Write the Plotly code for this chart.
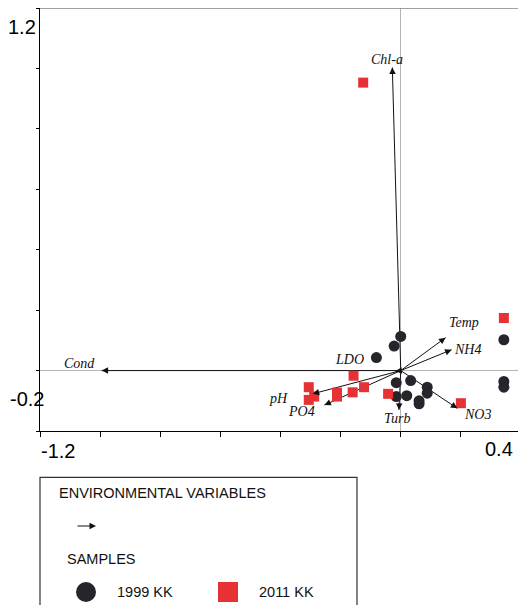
import plotly.graph_objects as go

# ---- data ----
s1999_x = [0.000, -0.022, -0.081, 0.343, 0.343, 0.343, -0.015, 0.033, 0.088, 0.088, -0.015, 0.020, 0.061, 0.061]
s1999_y = [0.113, 0.081, 0.043, 0.102, -0.036, -0.055, -0.040, -0.033, -0.055, -0.075, -0.086, -0.083, -0.100, -0.110]

s2011_x = [-0.125, 0.343, -0.157, -0.306, -0.288, -0.306, -0.212, -0.212, -0.160, -0.122, -0.042, 0.200]
s2011_y = [0.953, 0.174, -0.017, -0.055, -0.086, -0.097, -0.073, -0.086, -0.072, -0.055, -0.077, -0.108]

env_names = ["Chl-a", "Cond", "Temp", "NH4", "NO3", "Turb", "pH", "PO4", "LDO"]
env_x = [-0.028, -0.995, 0.149, 0.169, 0.188, -0.006, -0.293, -0.254, -0.018]
env_y = [1.003, 0.000, 0.109, 0.069, -0.125, -0.130, -0.077, -0.114, -0.002]

# label anchor positions (data units)
lab_x = [-0.046, -1.070, 0.210, 0.221, 0.256, -0.012, -0.407, -0.330, -0.171]
lab_y = [1.028, 0.025, 0.158, 0.069, -0.147, -0.157, -0.092, -0.136, 0.038]

x_ticks = [-1.2, -1.0, -0.8, -0.6, -0.4, -0.2, 0.0, 0.2, 0.4]
y_ticks = [-0.2, 0.0, 0.2, 0.4, 0.6, 0.8, 1.0, 1.2]

RED = "#e63234"
DARK = "#25252b"

fig = go.Figure()

# arrow shafts (below markers)
sx, sy = [], []
for x, y in zip(env_x, env_y):
    sx += [0, x, None]
    sy += [0, y, None]
fig.add_trace(go.Scatter(x=sx, y=sy, mode="lines", line=dict(color="#111111", width=1),
                         hoverinfo="skip", showlegend=False))

fig.add_trace(go.Scatter(x=s1999_x, y=s1999_y, mode="markers", name="1999 KK",
                         marker=dict(symbol="circle", size=11, color=DARK), showlegend=False))
fig.add_trace(go.Scatter(x=s2011_x, y=s2011_y, mode="markers", name="2011 KK",
                         marker=dict(symbol="square", size=10, color=RED), showlegend=False))

ann = []
for name, x, y, lx, ly in zip(env_names, env_x, env_y, lab_x, lab_y):
    L = (x * x + y * y) ** 0.5
    bx = x - 0.02 * x / L
    by = y - 0.02 * y / L
    ann.append(dict(x=x, y=y, ax=bx, ay=by, axref="x", ayref="y", xref="x", yref="y",
                    text="", showarrow=True, arrowhead=2, arrowsize=1.3, arrowwidth=1,
                    arrowcolor="#111111"))
    ann.append(dict(x=lx, y=ly, xref="x", yref="y", text=name, showarrow=False,
                    font=dict(family="Liberation Serif", size=14, color="#111111", style="italic"),
                    xanchor="center", yanchor="middle"))

axfont = dict(family="Liberation Sans, Arial", size=20, color="#000000")
ann += [
    dict(x=-0.0048, y=0.955, xref="paper", yref="paper", text="1.2", showarrow=False,
         xanchor="right", yanchor="middle", font=axfont),
    dict(x=-0.026, y=0.0757, xref="paper", yref="paper", text="-0.2", showarrow=False,
         xanchor="center", yanchor="middle", font=axfont),
    dict(x=0.0374, y=-0.0473, xref="paper", yref="paper", text="-1.2", showarrow=False,
         xanchor="center", yanchor="middle", font=axfont),
    dict(x=0.954, y=-0.0426, xref="paper", yref="paper", text="0.4", showarrow=False,
         xanchor="center", yanchor="middle", font=axfont),
]

lgfont = dict(family="Liberation Sans, Arial", size=14.5, color="#111111")
ann += [
    dict(x=0.0353, y=-0.1466, xref="paper", yref="paper", text="ENVIRONMENTAL VARIABLES",
         showarrow=False, xanchor="left", yanchor="middle", font=lgfont),
    dict(x=0.1164, y=-0.2246, xref="paper", yref="paper", text="", showarrow=True,
         ax=-20, ay=0, arrowhead=2, arrowsize=1.3, arrowwidth=1, arrowcolor="#111111"),
    dict(x=0.052, y=-0.3026, xref="paper", yref="paper", text="SAMPLES",
         showarrow=False, xanchor="left", yanchor="middle", font=lgfont),
    dict(x=0.1559, y=-0.3806, xref="paper", yref="paper", text="1999 KK",
         showarrow=False, xanchor="left", yanchor="middle", font=lgfont),
    dict(x=0.4511, y=-0.3806, xref="paper", yref="paper", text="2011 KK",
         showarrow=False, xanchor="left", yanchor="middle", font=lgfont),
]

shapes = [
    # top & right frame
    dict(type="line", xref="paper", yref="paper", x0=0, x1=1, y0=1, y1=1,
         line=dict(color="#808080", width=1.5)),
    dict(type="line", xref="paper", yref="paper", x0=1, x1=1, y0=0, y1=1,
         line=dict(color="#555555", width=1.5)),
    # legend box
    dict(type="rect", xref="paper", yref="paper", x0=0, x1=0.659, y0=-0.1095, y1=-0.46,
         line=dict(color="#333333", width=1.2), fillcolor="rgba(0,0,0,0)"),
    # legend glyphs
    dict(type="circle", xref="paper", yref="paper", xsizemode="pixel", ysizemode="pixel",
         xanchor=(86 - 40) / 481, yanchor=-0.3806, x0=-10, x1=10, y0=-10, y1=10,
         fillcolor=DARK, line=dict(width=0)),
    dict(type="rect", xref="paper", yref="paper", xsizemode="pixel", ysizemode="pixel",
         xanchor=(228 - 40) / 481, yanchor=-0.3806, x0=-10, x1=10, y0=-10, y1=10,
         fillcolor=RED, line=dict(width=0)),
]

# page body adds an 8px offset; figure is sized so the plot area lands at (40..521, 8..431)
fig.update_layout(
    width=518, height=597,
    margin=dict(l=32, r=5, t=0, b=174, autoexpand=False),
    paper_bgcolor="white", plot_bgcolor="white",
    showlegend=False,
    annotations=ann, shapes=shapes,
    xaxis=dict(range=[-1.2, 0.4], showgrid=False, zeroline=True, zerolinecolor="#b4b4b4",
               zerolinewidth=1, showline=True, linecolor="#000000", linewidth=1,
               ticks="outside", ticklen=5, tickcolor="#000000", tickvals=x_ticks,
               showticklabels=False, fixedrange=True, automargin=False),
    yaxis=dict(range=[-0.2, 1.2], showgrid=False, zeroline=True, zerolinecolor="#b4b4b4",
               zerolinewidth=1, showline=True, linecolor="#000000", linewidth=1,
               ticks="outside", ticklen=3, tickcolor="#000000", tickvals=y_ticks,
               showticklabels=False, fixedrange=True, automargin=False),
)

fig.write_html("out.html")
